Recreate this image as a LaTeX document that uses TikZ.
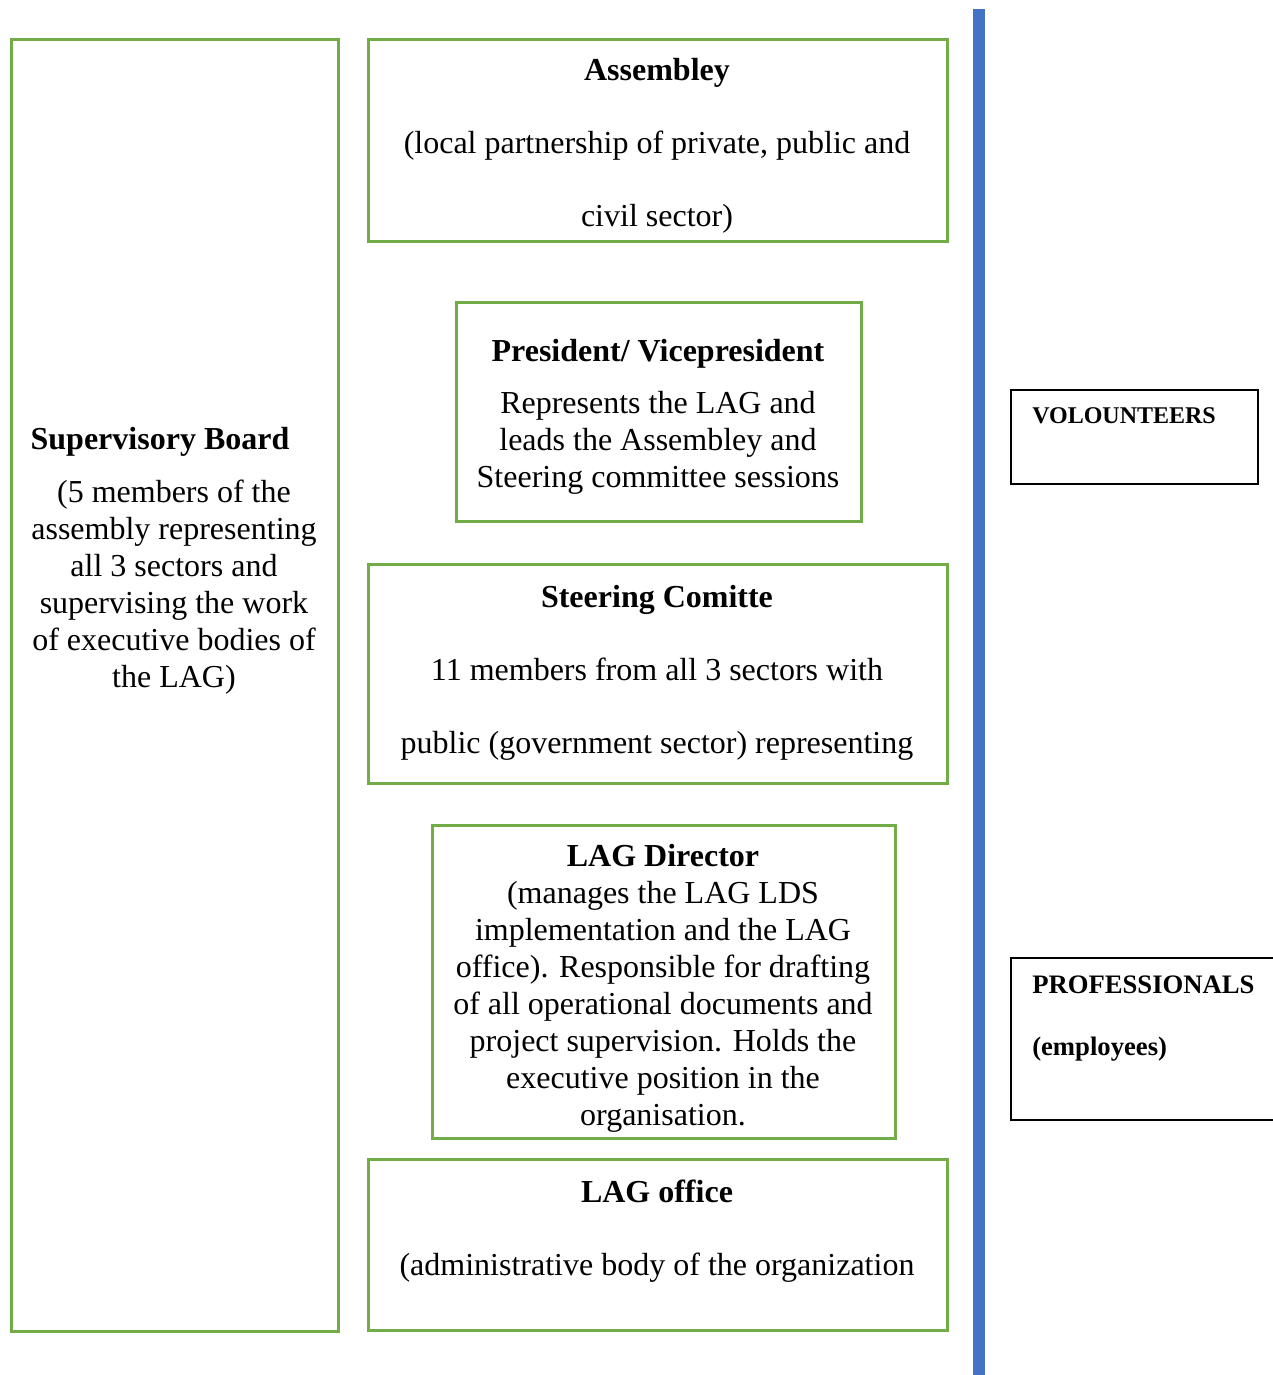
\documentclass[tikz,border=0pt]{standalone}
\usepackage{fontspec}
\setmainfont{Liberation Serif}
\usetikzlibrary{fit}
\definecolor{boxgreen}{HTML}{70AD47}
\definecolor{barblue}{HTML}{4472C4}

\begin{document}
\begin{tikzpicture}[x=0.75pt, y=-0.75pt,
    greenbox/.style={draw=boxgreen, line width=2.25pt, inner sep=0pt},
    blackbox/.style={draw=black, line width=1.5pt, inner sep=0pt},
    textblock/.style={inner sep=0pt, align=center, anchor=base, font=\fontsize{24}{27.75}\selectfont},
    spacedblock/.style={inner sep=0pt, align=center, anchor=base, font=\fontsize{24}{54.5}\selectfont},
    sidetext/.style={inner sep=0pt, align=left, anchor=base west, font=\fontsize{18}{46.5}\selectfont\bfseries}]
    \useasboundingbox (0,0) rectangle (1272,1375);

    \node (board) [greenbox, fit={(11,39) (338,1331)}] {};
    \node (assembly) [greenbox, fit={(368,39) (947,241)}] {};
    \node (president) [greenbox, fit={(456,302) (861,521)}] {};
    \node (steering) [greenbox, fit={(368,564) (947,783)}] {};
    \node (director) [greenbox, fit={(432,825) (895,1138)}] {};
    \node (office) [greenbox, fit={(368,1159) (947,1330)}] {};

    \node (boardtitle) [textblock] at (160,449) {\textbf{Supervisory Board}};
    \node (boardtext) [textblock] at (174,687) {(5 members of the\\ assembly representing\\ all 3 sectors and\\ supervising the work\\ of executive bodies of\\ the LAG)};
    \node (assemblytext) [spacedblock] at (657,226) {\textbf{Assembley}\\ (local partnership of private, public and\\ civil sector)};
    \node (presidenttext) [textblock] at (658,487) {\textbf{President/ Vicepresident}\\[11.25pt] Represents the LAG and\\ leads the Assembley and\\ Steering committee sessions};
    \node (steeringtext) [spacedblock] at (657,753) {\textbf{Steering Comitte}\\ 11 members from all 3 sectors with\\ public (government sector) representing};
    \node (directortext) [textblock] at (663,1125) {\textbf{LAG Director}\\ (manages the LAG LDS\\ implementation and the LAG\\ office). Responsible for drafting\\ of all operational documents and\\ project supervision. Holds the\\ executive position in the\\ organisation.};
    \node (officetext) [spacedblock] at (657,1275) {\textbf{LAG office}\\ (administrative body of the organization};

    \node (bar) [fill=barblue, inner sep=0pt, fit={(973,9) (985,1375)}] {};

    \node (volunteers) [blackbox, fit={(1011,390) (1258,484)}] {};
    \node (professionals) [blackbox, fit={(1011,958) (1290,1120)}] {};
    \node (volunteerstext) [sidetext] at (1032,423) {VOLOUNTEERS};
    \node (professionalstext) [sidetext, font=\fontsize{20}{46.5}\selectfont\bfseries] at (1032,1055) {PROFESSIONALS\\ (employees)};
\end{tikzpicture}
\end{document}
